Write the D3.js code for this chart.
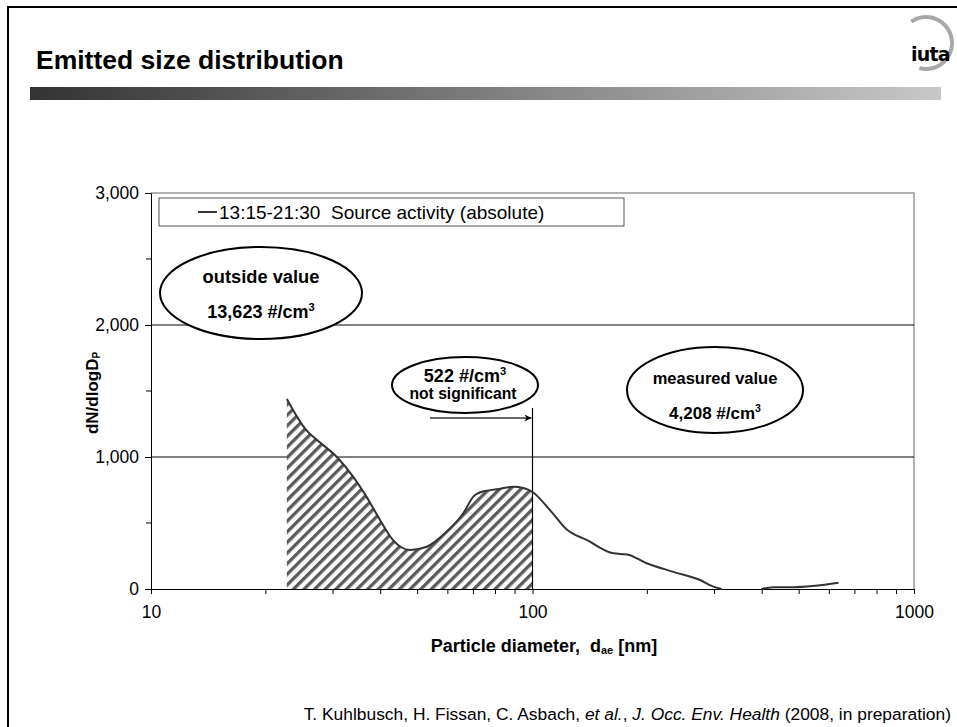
<!DOCTYPE html>
<html><head><meta charset="utf-8">
<script src="https://cdn.jsdelivr.net/npm/d3@7"></script>
<style>
body{margin:0;background:#fff;}
svg{display:block;font-family:"Liberation Sans",Arial,sans-serif;}
text{white-space:pre;}
</style></head>
<body><svg id="c" width="957" height="727"></svg>
<script>
// ---- data ----
const diameters = [22.7, 25.6, 27.2, 30.7, 33.9, 36.7, 39.8, 43.1, 47.8, 52.8, 59.6, 65.9, 70.0, 74.4, 80.6, 89.1, 94.6, 100, 111, 123, 139, 163, 177, 199, 234, 275, 298, 313, 350, 398, 428, 483, 634];
const dNdlogDp  = [1440, 1200, 1130, 1000, 850, 700, 525, 370, 295, 320, 435, 575, 700, 740, 755, 775, 765, 735, 600, 450, 370, 270, 262, 195, 130, 68, 18, 0, null, 0, 13, 14, 48];
const yTicks = [0, 1000, 2000, 3000];
const yMinor = [500, 1500, 2500];
const xTicks = [10, 100, 1000];
const legendTime = "13:15-21:30";
const legendLabel = "Source activity (absolute)";
const cutoff = 100;

const svg = d3.select("#c");
const m = {l:151, r:914, t:193, b:589};
const x = d3.scaleLog().domain([10,1000]).range([m.l, m.r]);
const y = d3.scaleLinear().domain([0,3000]).range([m.b, m.t]);
const FONT = "'Liberation Sans',Arial,sans-serif";

// slide frame
svg.append("rect").attr("x",8).attr("y",7).attr("width",960).attr("height",730)
  .attr("fill","none").attr("stroke","#000").attr("stroke-width",2);

// title
svg.append("text").attr("x",36).attr("y",69).attr("font-size",26.5).attr("font-weight","bold")
  .text("Emitted size distribution");

// gradient bar
const defs = svg.append("defs");
const g1 = defs.append("linearGradient").attr("id","bar");
g1.append("stop").attr("offset","0%").attr("stop-color","#333");
g1.append("stop").attr("offset","100%").attr("stop-color","#c8c8c8");
svg.append("rect").attr("x",30).attr("y",87).attr("width",911).attr("height",13).attr("fill","url(#bar)");

// logo
const arc = d3.arc().innerRadius(24).outerRadius(28).startAngle(-0.6).endAngle(3.4);
svg.append("path").attr("d",arc()).attr("transform","translate(926,43)").attr("fill","#a8a8a8");
svg.append("text").attr("x",911).attr("y",61).attr("font-size",19).attr("font-weight","bold")
  .attr("font-family","'DejaVu Sans',sans-serif").attr("letter-spacing",-0.8).text("iuta");

// hatch pattern
const pat = defs.append("pattern").attr("id","hatch").attr("patternUnits","userSpaceOnUse")
  .attr("width",7.5).attr("height",7.5).attr("patternTransform","rotate(45)");
pat.append("rect").attr("width",7.5).attr("height",7.5).attr("fill","#fff");
pat.append("rect").attr("width",3.3).attr("height",7.5).attr("fill","#5a5a5a");
defs.append("clipPath").attr("id","cut").append("rect")
  .attr("x",m.l).attr("y",m.t).attr("width",x(cutoff)-m.l).attr("height",m.b-m.t);

// plot border (top/right)
svg.append("path").attr("d",`M${m.l},${m.t}H${m.r}V${m.b}`).attr("fill","none").attr("stroke","#999").attr("stroke-width",1.5);

// gridlines
svg.append("g").selectAll("line").data(yTicks.filter(v=>v>0&&v<3000)).join("line")
  .attr("x1",m.l).attr("x2",m.r).attr("y1",d=>y(d)).attr("y2",d=>y(d))
  .attr("stroke","#000").attr("stroke-width",1);

const pts = diameters.map((d,i)=>({d, v:dNdlogDp[i]}));
// area
const area = d3.area().defined(p=>p.v!==null).x(p=>x(p.d)).y0(y(0)).y1(p=>y(p.v)).curve(d3.curveMonotoneX);
svg.append("path").attr("d",area(pts)).attr("fill","url(#hatch)").attr("clip-path","url(#cut)");

// cutoff line
svg.append("line").attr("x1",x(cutoff)).attr("x2",x(cutoff)).attr("y1",408).attr("y2",m.b)
  .attr("stroke","#000").attr("stroke-width",1.2);

// axes
const yAxis = d3.axisLeft(y).tickValues(yTicks).tickFormat(d3.format(",")).tickSize(6).tickPadding(6);
const ya = svg.append("g").attr("transform",`translate(${m.l},0)`).call(yAxis);
ya.selectAll("text").attr("font-size",17.5).attr("font-family",FONT).attr("fill","#000");
ya.select(".domain").attr("stroke","#000");
svg.append("g").selectAll("line").data(yMinor).join("line")
  .attr("x1",m.l-5).attr("x2",m.l).attr("y1",d=>y(d)).attr("y2",d=>y(d)).attr("stroke","#000");

const xMinor = [];
for (let dec of [10,100]) for (let k=2;k<=9;k++) xMinor.push(dec*k);
const xAxis = d3.axisBottom(x).tickValues(xTicks).tickFormat(d3.format("d")).tickSize(5).tickPadding(12);
const xa = svg.append("g").attr("transform",`translate(0,${m.b})`).call(xAxis);
xa.selectAll("text").attr("font-size",17.5).attr("font-family",FONT).attr("fill","#000");
xa.select(".domain").attr("stroke","#000");
svg.append("g").selectAll("line").data(xMinor).join("line")
  .attr("x1",d=>x(d)).attr("x2",d=>x(d)).attr("y1",m.b).attr("y2",m.b+5).attr("stroke","#000");

// curve
const line = d3.line().defined(p=>p.v!==null).x(p=>x(p.d)).y(p=>y(p.v)).curve(d3.curveMonotoneX);
svg.append("path").attr("d",line(pts)).attr("fill","none").attr("stroke","#333").attr("stroke-width",2);

// axis labels
const xl = svg.append("text").attr("x",544).attr("y",652).attr("text-anchor","middle")
  .attr("font-size",18).attr("font-weight","bold");
xl.append("tspan").text("Particle diameter,  d");
xl.append("tspan").attr("font-size",11).attr("dy",2).text("ae");
xl.append("tspan").attr("dy",-2).text(" [nm]");
const yl = svg.append("text").attr("transform","translate(98,393) rotate(-90)").attr("text-anchor","middle")
  .attr("font-size",17).attr("font-weight","bold");
yl.append("tspan").text("dN/dlogD");
yl.append("tspan").attr("font-size",10).attr("dy",2).text("P");

// legend
svg.append("rect").attr("x",159).attr("y",198).attr("width",465).attr("height",28)
  .attr("fill","#fff").attr("stroke","#555").attr("stroke-width",1);
svg.append("line").attr("x1",198).attr("x2",217).attr("y1",212).attr("y2",212).attr("stroke","#333").attr("stroke-width",2);
svg.append("text").attr("x",219).attr("y",219).attr("font-size",19).text(legendTime);
svg.append("text").attr("x",331).attr("y",219).attr("font-size",19).text(legendLabel);

// callouts
function ell(cx,cy,rx,ry){
  svg.append("ellipse").attr("cx",cx).attr("cy",cy).attr("rx",rx).attr("ry",ry)
    .attr("fill","#fff").attr("stroke","#000").attr("stroke-width",2);
}
function cm3(t, xx, yy, fs){
  const tx = svg.append("text").attr("x",xx).attr("y",yy).attr("text-anchor","middle")
    .attr("font-size",fs).attr("font-weight","bold");
  tx.append("tspan").text(t+" #/cm");
  tx.append("tspan").attr("font-size",fs*0.62).attr("dy",-fs*0.4).text("3");
}
ell(261,293,101,46);
svg.append("text").attr("x",261).attr("y",283).attr("text-anchor","middle").attr("font-size",18.3).attr("font-weight","bold").text("outside value");
cm3("13,623",261,318,18);

ell(465,385,73,28);
cm3("522",465,382,18);
svg.append("text").attr("x",463).attr("y",399).attr("text-anchor","middle").attr("font-size",15.7).attr("font-weight","bold").text("not significant");

ell(715,390,88,43);
svg.append("text").attr("x",715).attr("y",384).attr("text-anchor","middle").attr("font-size",16.5).attr("font-weight","bold").text("measured value");
cm3("4,208",715,419,17);

// arrow
defs.append("marker").attr("id","ah").attr("viewBox","0 0 10 10").attr("refX",10).attr("refY",5)
  .attr("markerWidth",10).attr("markerHeight",7).attr("markerUnits","userSpaceOnUse").attr("orient","auto")
  .append("path").attr("d","M0,0L10,5L0,10L3,5Z").attr("fill","#000");
svg.append("line").attr("x1",430).attr("x2",x(cutoff)-1).attr("y1",418).attr("y2",418)
  .attr("stroke","#333").attr("stroke-width",1.5).attr("marker-end","url(#ah)");

// citation
const ct = svg.append("text").attr("x",951).attr("y",720).attr("text-anchor","end").attr("font-size",17.4);
ct.append("tspan").text("T. Kuhlbusch, H. Fissan, C. Asbach, ");
ct.append("tspan").attr("font-style","italic").text("et al.");
ct.append("tspan").text(", ");
ct.append("tspan").attr("font-style","italic").text("J. Occ. Env. Health");
ct.append("tspan").text(" (2008, in preparation)");
</script></body></html>
